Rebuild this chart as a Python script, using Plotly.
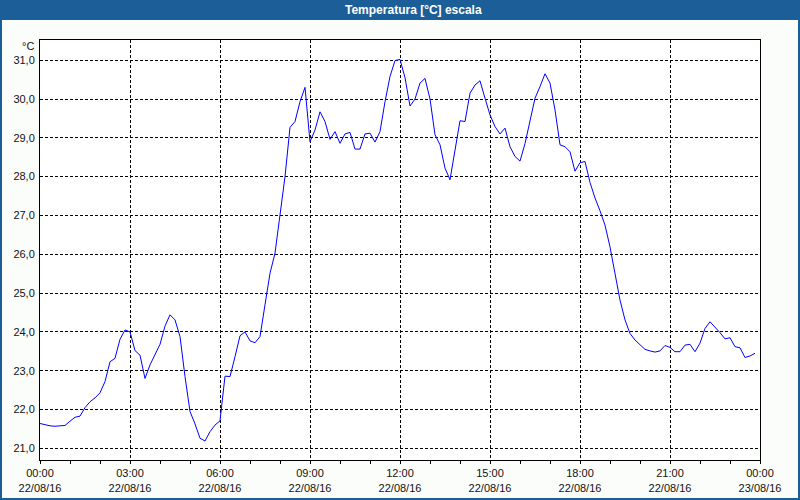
import pandas as pd
import plotly.graph_objects as go

# 10-minute readings, 22/08/16 00:00 -> 23:50
temps = [
    21.64, 21.60, 21.58, 21.57, 21.58, 21.59, 21.70, 21.80, 21.83, 22.05,
    22.20, 22.30, 22.43, 22.72, 23.23, 23.32, 23.81, 24.05, 24.00, 23.52,
    23.40, 22.80, 23.15, 23.40, 23.68, 24.15, 24.44, 24.31, 23.88, 22.85,
    21.95, 21.63, 21.26, 21.19, 21.43, 21.60, 21.71, 22.86, 22.85, 23.36,
    23.90, 24.00, 23.77, 23.72, 23.88, 24.70, 25.51, 26.03, 26.97, 28.00,
    29.27, 29.42, 29.93, 30.30, 28.90, 29.20, 29.67, 29.42, 28.96, 29.16,
    28.86, 29.10, 29.14, 28.71, 28.71, 29.10, 29.12, 28.89, 29.16, 29.93,
    30.58, 30.99, 31.02, 30.55, 29.82, 30.00, 30.41, 30.53, 30.00, 29.08,
    28.82, 28.22, 27.92, 28.69, 29.44, 29.42, 30.15, 30.36, 30.47, 30.02,
    29.59, 29.29, 29.10, 29.25, 28.77, 28.52, 28.40, 28.85, 29.45, 30.02,
    30.32, 30.65, 30.41, 29.72, 28.82, 28.77, 28.64, 28.14, 28.36, 28.39,
    27.85, 27.45, 27.12, 26.75, 26.19, 25.51, 24.82, 24.31, 23.96, 23.79,
    23.66, 23.55, 23.51, 23.48, 23.51, 23.65, 23.60, 23.49, 23.49, 23.66,
    23.68, 23.49, 23.71, 24.09, 24.26, 24.13, 23.98, 23.82, 23.85, 23.62,
    23.59, 23.34, 23.38, 23.45,
]
times = pd.date_range("2016-08-22 00:00", periods=len(temps), freq="10min")

x_tickvals = ["2016-08-22 00:00", "2016-08-22 03:00", "2016-08-22 06:00",
              "2016-08-22 09:00", "2016-08-22 12:00", "2016-08-22 15:00",
              "2016-08-22 18:00", "2016-08-22 21:00", "2016-08-23 00:00"]
x_ticktext = ["00:00<br>22/08/16", "03:00<br>22/08/16", "06:00<br>22/08/16",
              "09:00<br>22/08/16", "12:00<br>22/08/16", "15:00<br>22/08/16",
              "18:00<br>22/08/16", "21:00<br>22/08/16", "00:00<br>23/08/16"]
y_tickvals = [21, 22, 23, 24, 25, 26, 27, 28, 29, 30, 31]
y_ticktext = ["21,0", "22,0", "23,0", "24,0", "25,0", "26,0", "27,0",
              "28,0", "29,0", "30,0", "31,0"]

FONT = "Liberation Sans, Arial, sans-serif"
BLUE_BAR = "#1c5f98"

fig = go.Figure()
fig.add_trace(go.Scatter(x=times, y=temps, mode="lines",
                         line=dict(color="#0000ff", width=1),
                         hoverinfo="x+y", showlegend=False))

fig.update_layout(
    width=800, height=500,
    margin=dict(l=40, r=40, t=40, b=40, autoexpand=False),
    paper_bgcolor="#fbfdfb", plot_bgcolor="#ffffff",
    font=dict(family=FONT, size=11, color="#111111"),
    xaxis=dict(
        type="date",
        range=["2016-08-22 00:00", "2016-08-23 00:00"],
        tickmode="array", tickvals=x_tickvals, ticktext=x_ticktext,
        ticks="outside", ticklen=3, tickcolor="#000000",
        showgrid=True, gridcolor="#000000", gridwidth=1, griddash="3px,2px",
        showline=True, linecolor="#000000", linewidth=1, mirror=True,
        zeroline=False, automargin=False,
        minor=dict(dtick=3600000, ticks="outside", ticklen=3,
                   tickcolor="#000000", showgrid=False),
        tickfont=dict(family=FONT, size=11, color="#111111"),
    ),
    yaxis=dict(
        range=[20.70, 31.52],
        tickmode="array", tickvals=y_tickvals, ticktext=y_ticktext,
        ticks="", ticklabelstandoff=2,
        showgrid=True, gridcolor="#000000", gridwidth=1, griddash="3px,2px",
        showline=True, linecolor="#000000", linewidth=1, mirror=True,
        zeroline=False, automargin=False,
        tickfont=dict(family=FONT, size=11, color="#111111"),
    ),
    shapes=[
        # title bar
        dict(type="rect", xref="paper", yref="paper",
             x0=-40/720, x1=760/720, y0=440/420, y1=460/420,
             fillcolor=BLUE_BAR, line=dict(width=0), layer="above"),
        # window borders
        dict(type="rect", xref="paper", yref="paper",
             x0=-40/720, x1=-38/720, y0=-40/420, y1=460/420,
             fillcolor=BLUE_BAR, line=dict(width=0), layer="above"),
        dict(type="rect", xref="paper", yref="paper",
             x0=758/720, x1=760/720, y0=-40/420, y1=460/420,
             fillcolor=BLUE_BAR, line=dict(width=0), layer="above"),
        dict(type="rect", xref="paper", yref="paper",
             x0=-40/720, x1=760/720, y0=-40/420, y1=-38/420,
             fillcolor=BLUE_BAR, line=dict(width=0), layer="above"),
    ],
    annotations=[
        dict(text="<b>Temperatura [°C] escala</b>", xref="paper", yref="paper",
             x=373/720, y=450/420, xanchor="center", yanchor="middle",
             showarrow=False, font=dict(family=FONT, size=12, color="#ffffff")),
        dict(text="°C", xref="paper", yref="paper",
             x=-4/720, y=(460-46)/420, xanchor="right", yanchor="middle",
             showarrow=False, font=dict(family=FONT, size=11, color="#111111")),
    ],
)

fig.write_html("out.html",
               config={"displayModeBar": False},
               post_script="document.body.style.margin='0px';document.body.style.padding='0px';")
